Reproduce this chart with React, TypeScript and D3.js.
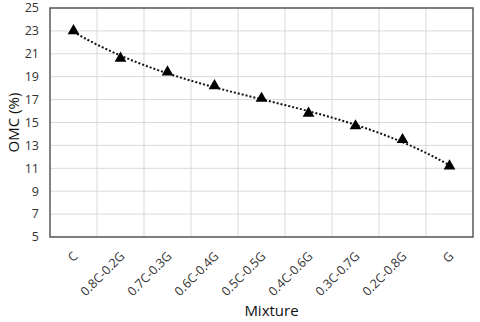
import React from "react";
import * as d3 from "d3";

const categories = ["C", "0.8C-0.2G", "0.7C-0.3G", "0.6C-0.4G", "0.5C-0.5G", "0.4C-0.6G", "0.3C-0.7G", "0.2C-0.8G", "G"];
const omcValues = [23.0, 20.6, 19.4, 18.2, 17.1, 15.8, 14.7, 13.5, 11.2];
const yTicks = [5, 7, 9, 11, 13, 15, 17, 19, 21, 23, 25];

const W = 480, H = 322;
const M = { left: 50, right: 7, top: 8, bottom: 85 };

// least-squares polynomial trendline (like a spreadsheet trendline)
function polyFit(xs: number[], ys: number[], deg: number): number[] {
  const n = deg + 1;
  const A: number[][] = Array.from({ length: n }, () => Array(n + 1).fill(0));
  for (let r = 0; r < n; r++) {
    for (let c = 0; c < n; c++) A[r][c] = d3.sum(xs, (v) => Math.pow(v, r + c));
    A[r][n] = d3.sum(xs, (v, i) => ys[i] * Math.pow(v, r));
  }
  for (let i = 0; i < n; i++) {
    let p = i;
    for (let k = i + 1; k < n; k++) if (Math.abs(A[k][i]) > Math.abs(A[p][i])) p = k;
    [A[i], A[p]] = [A[p], A[i]];
    for (let k = 0; k < n; k++) {
      if (k === i) continue;
      const f = A[k][i] / A[i][i];
      for (let j = i; j <= n; j++) A[k][j] -= f * A[i][j];
    }
  }
  return A.map((row, i) => row[n] / row[i]);
}

export default function App() {
  const x = d3.scaleBand().domain(categories).range([M.left, W - M.right]);
  const y = d3.scaleLinear().domain([5, 25]).range([H - M.bottom, M.top]);
  const cx = (c: string) => (x(c) as number) + x.bandwidth() / 2;
  const pts: [number, number][] = categories.map((c, i) => [cx(c), y(omcValues[i])]);
  const idx = categories.map((_, i) => i + 1);
  const coef = polyFit(idx, omcValues, 3);
  const xi = d3.scaleLinear().domain([1, categories.length]).range([cx(categories[0]), cx(categories[categories.length - 1])]);
  const trend: [number, number][] = d3.range(1, categories.length + 0.001, 0.1).map((t) => [
    xi(t),
    y(coef.reduce((s, c, k) => s + c * Math.pow(t, k), 0)),
  ]);
  const line = d3.line().curve(d3.curveLinear)(trend) || "";
  const tri = d3.symbol().type(d3.symbolTriangle).size(60)() || "";
  const font = "'Open Sans', 'Noto Sans', sans-serif";
  const bottom = H - M.bottom;
  return (
    <svg width={W} height={H} style={{ position: "absolute", left: 0, top: 0, background: "#fff" }}>
      {yTicks.map((t) => (
        <line key={"gy" + t} x1={M.left} x2={W - M.right} y1={y(t)} y2={y(t)} stroke="#d9d9d9" strokeWidth={1} />
      ))}
      {categories.slice(1).map((c) => (
        <line key={"gx" + c} x1={x(c) as number} x2={x(c) as number} y1={M.top} y2={bottom} stroke="#d9d9d9" strokeWidth={1} />
      ))}
      <rect x={M.left} y={M.top} width={W - M.left - M.right} height={bottom - M.top} fill="none" stroke="#595959" strokeWidth={1.5} />
      {yTicks.map((t) => (
        <text key={"yt" + t} x={39} y={y(t)} dy="0.35em" textAnchor="end" fontSize={12.5} fontFamily={font} fill="#333">
          {t}
        </text>
      ))}
      {categories.map((c) => (
        <text
          key={"xt" + c}
          transform={`translate(${cx(c) + 5},${bottom + 20}) rotate(-45)`}
          textAnchor="end"
          fontSize={12.5}
          fontFamily={font}
          fill="#333"
        >
          {c}
        </text>
      ))}
      <path d={line} fill="none" stroke="#111" strokeWidth={2} strokeDasharray="2,2" />
      {pts.map((p, i) => (
        <path key={"m" + i} d={tri} transform={`translate(${p[0]},${p[1]})`} fill="#000" />
      ))}
      <text transform={`translate(19,${(M.top + bottom) / 2}) rotate(-90)`} textAnchor="middle" fontSize={15} fontFamily={font} fill="#111">
        OMC (%)
      </text>
      <text x={(M.left + W - M.right) / 2 + 10} y={316} textAnchor="middle" fontSize={15} fontFamily={font} fill="#111">
        Mixture
      </text>
    </svg>
  );
}
